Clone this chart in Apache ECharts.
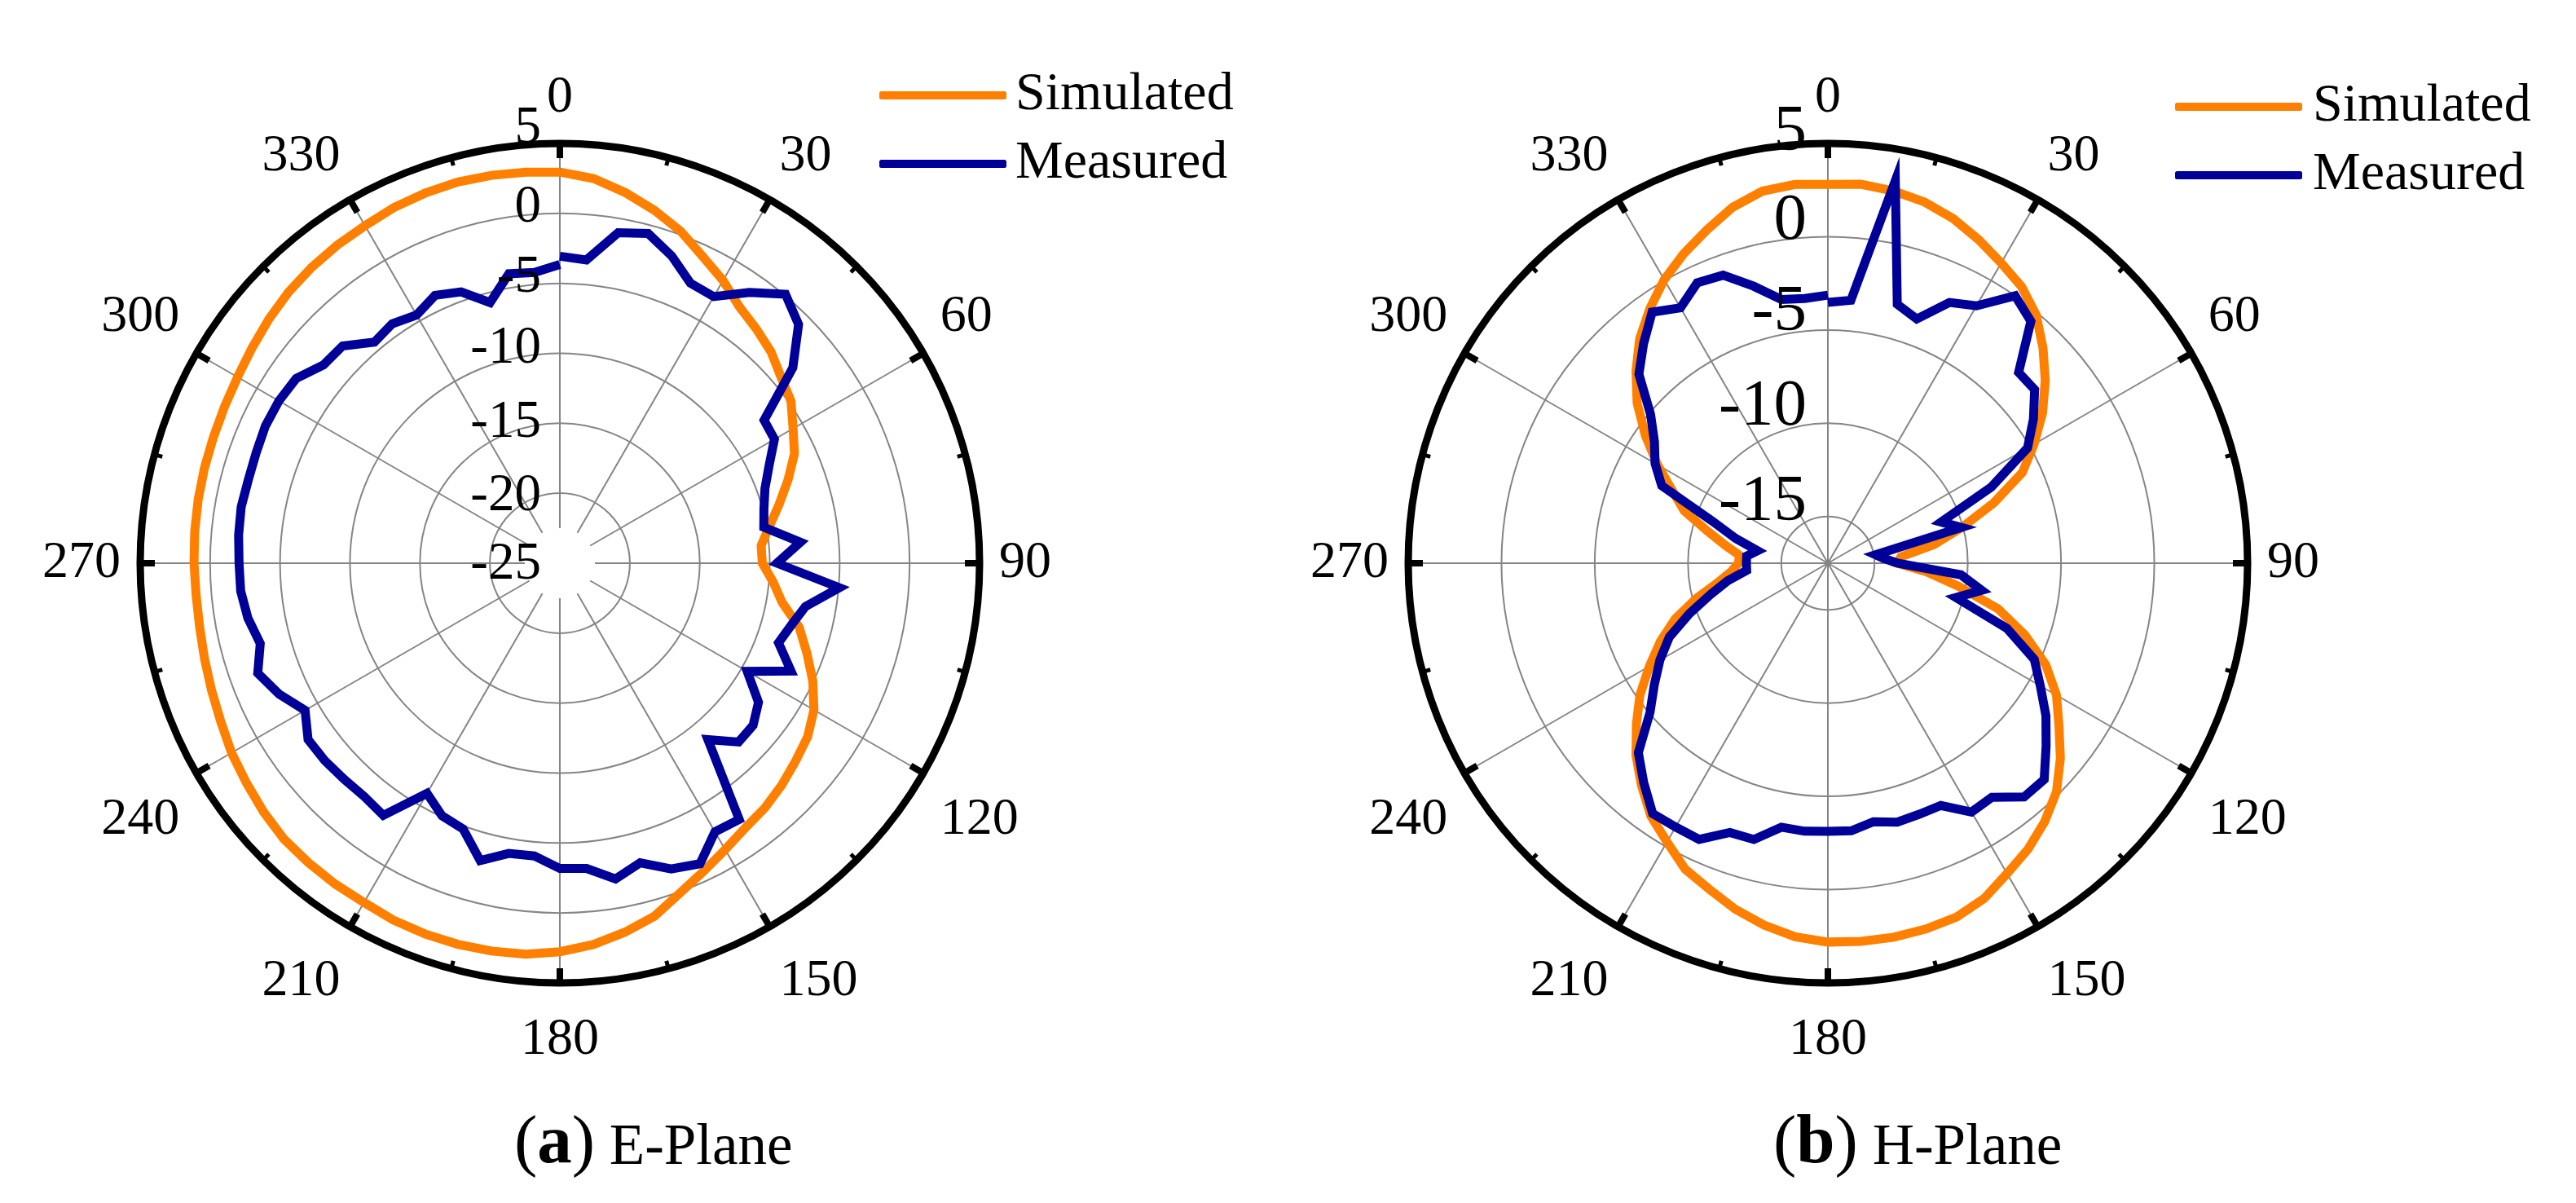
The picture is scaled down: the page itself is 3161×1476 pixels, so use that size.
<!DOCTYPE html>
<html><head><meta charset="utf-8">
<style>html,body{margin:0;padding:0;background:#fff}#c{width:3161px;height:1476px}</style>
<script src="https://cdn.jsdelivr.net/npm/echarts@6/dist/echarts.min.js"></script>
</head><body><div id="c"></div>
<script>
const seriesNames = ['Simulated', 'Measured'];
const captionA = 'E-Plane';
const captionB = 'H-Plane';
const angleDeg = [0,5,10,15,20,25,30,35,40,45,50,55,60,65,70,75,80,85,90,95,100,105,110,115,120,125,130,135,140,145,150,155,160,165,170,175,180,185,190,195,200,205,210,215,220,225,230,235,240,245,250,255,260,265,270,275,280,285,290,295,300,305,310,315,320,325,330,335,340,345,350,355,360];
const eSimulated = [2.95,2.6,1.9,1.11,0.25,-0.82,-1.67,-2.63,-3.15,-3.65,-4.35,-4.83,-5.75,-6.5,-7.65,-8.78,-9.79,-10.56,-10.53,-9.7,-8.87,-7.29,-6.21,-5.05,-4.03,-3.38,-3.0,-2.57,-2.19,-1.9,-1.37,-0.7,0.09,1.12,1.78,2.36,2.77,3.05,3.15,3.2,3.2,3.15,3.0,3.0,2.95,2.89,2.65,2.36,2.1,1.75,1.5,1.3,1.15,1.1,1.15,1.2,1.25,1.3,1.35,1.45,1.6,1.85,2.15,2.42,2.6,2.75,2.85,3.05,3.15,3.2,3.15,3.05,2.95];
const eMeasured = [-3.06,-3.24,-1.02,-0.61,-1.63,-2.92,-3.0,-1.37,0.09,-0.87,-3.26,-7.18,-7.29,-8.5,-9.4,-9.9,-10.2,-7.74,-9.48,-4.95,-7.18,-7.88,-8.37,-6.77,-9.54,-7.67,-6.97,-6.93,-8.54,-2.65,-2.83,-1.3,-1.74,-2.83,-2.09,-3.1,-3.18,-4.0,-3.94,-3.0,-4.78,-5.08,-6.01,-3.0,-3.24,-3.18,-3.06,-3.03,-3.97,-2.86,-2.02,-2.83,-2.36,-2.1,-2.07,-1.95,-1.87,-1.95,-1.9,-1.78,-1.81,-1.99,-2.95,-3.04,-4.38,-4.11,-4.52,-3.88,-4.36,-5.72,-4.0,-4.14,-3.65];
const hSimulated = [2.81,2.89,2.76,2.54,2.15,1.63,1.08,0.6,-0.13,-1.19,-2.29,-3.45,-4.74,-6.0,-8.03,-10.04,-11.71,-13.57,-13.79,-12.2,-10.4,-8.06,-6.26,-4.61,-3.35,-2.38,-1.23,-0.17,0.58,1.21,1.71,2.33,2.68,2.8,2.86,2.85,2.81,2.6,2.2,1.7,1.1,0.6,-0.25,-0.95,-1.95,-2.95,-4.1,-5.2,-6.45,-7.6,-8.8,-10.2,-11.5,-12.3,-12.7,-12.75,-11.9,-10.8,-9.3,-8.3,-6.95,-5.55,-4.15,-2.95,-1.8,-0.85,0.05,0.8,1.5,2.25,2.75,2.88,2.8];
const hMeasured = [-3.52,-3.35,3.32,-3.13,-3.57,-2.08,-1.57,0.0,-0.57,-3.04,-3.03,-4.05,-5.14,-7.83,-11.04,-10.1,-14.9,-14.5,-13.77,-10.34,-9.13,-10.39,-7.28,-5.29,-4.35,-3.23,-2.23,-1.1,-1.14,-2.18,-2.1,-3.17,-3.18,-3.13,-3.43,-3.1,-3.13,-3.08,-3.13,-2.17,-2.14,-1.16,-1.17,-1.12,-2.14,-3.13,-5.05,-6.14,-7.1,-8.12,-9.6,-10.97,-12.04,-13.13,-13.13,-13.13,-13.67,-12.38,-10.91,-7.67,-6.8,-6.15,-5.09,-3.17,-2.13,-1.07,-1.69,-0.92,-1.07,-2.13,-3.15,-3.26,-3.13];
const eRings = [-20,-15,-10,-5,0,5];
const hRings = [-15,-10,-5,0,5];
const eTickLabels = [-25,-20,-15,-10,-5,0,5];
const hTickLabels = [-15,-10,-5,0,5];

const FONT = 'Liberation Serif';
const ORANGE = '#ff8000', BLUE = '#000099', GRID = '#858585';
const eLift = {'5':18,'0':7,'-5':7,'-10':6,'-15':0,'-20':-4,'-25':-2};
const hLift = {'5':13,'0':19,'-5':21,'-10':20,'-15':17};

function tokenOf(n){ return (n<0?'d':'u')+Math.abs(n); }
function richFor(lift, size){
  const r = {};
  Object.values(lift).forEach(n => { r[tokenOf(n)] = {fontFamily:FONT,fontSize:size,color:'#000',
    padding:n<0?[-2*n,0,0,0]:[0,0,2*n,0]}; });
  return r;
}
function pairs(vals){ return vals.map((v,i)=>[v,angleDeg[i]]); }
function gridAngle(i){ return {polarIndex:i,startAngle:90,min:0,max:360,interval:30,
  axisLine:{show:false},axisTick:{show:false},axisLabel:{show:false},
  splitLine:{show:true,lineStyle:{color:GRID,width:2}}}; }
function frameAngle(i){ return {polarIndex:i,startAngle:90,min:0,max:360,interval:30,
  axisLine:{show:true,lineStyle:{color:'#000',width:9}},
  axisTick:{show:true,inside:true,length:18,lineStyle:{color:'#000',width:8}},
  minorTick:{show:true,splitNumber:2,length:10,lineStyle:{color:'#000',width:5}},
  axisLabel:{show:true,margin:24,
    formatter:v=>(v>90&&v<270?'{lo|'+v+'}':'{hi|'+v+'}'),
    rich:{hi:{fontFamily:FONT,fontSize:64,color:'#000'},
          lo:{fontFamily:FONT,fontSize:64,color:'#000',padding:[14,0,0,0]}}},
  splitLine:{show:false}}; }
function gridRadius(i,min,rings){ return {polarIndex:i,min:min,max:5,
  axisLine:{show:false},axisTick:{show:false,customValues:rings},axisLabel:{show:false},
  splitLine:{show:true,lineStyle:{color:GRID,width:2}}}; }
function labelRadius(i,min,labels,lift,size,margin){ return {polarIndex:i,min:min,max:5,z:10,
  axisLine:{show:false},axisTick:{show:false,customValues:labels},
  axisLabel:{show:true,customValues:labels,margin:margin,hideOverlap:false,showMinLabel:true,showMaxLabel:true,
    formatter:v=>'{'+tokenOf(lift[String(v)])+'|'+v+'}',rich:richFor(lift,size)},
  splitLine:{show:false}}; }
function line(name,vals,color,idx){ return {type:'line',name:name,coordinateSystem:'polar',polarIndex:idx,
  data:pairs(vals),showSymbol:false,symbol:'none',smooth:false,animation:false,clip:false,z:3,
  lineStyle:{color:color,width:11,join:'miter'},itemStyle:{color:color}}; }
function legend(left,top,pad){ return {orient:'vertical',left:left,top:top,data:seriesNames,selectedMode:false,
  itemWidth:156,itemHeight:10,itemGap:18,padding:0,icon:'roundRect',
  textStyle:{fontFamily:FONT,fontSize:66,color:'#000',padding:[0,0,0,pad]}}; }
function caption(letter,text,left){ return {left:left,top:1362,padding:0,
  text:'{p|(}{b|'+letter+'}{p|)} {t|'+text+'}',
  textStyle:{fontWeight:'normal',fontFamily:FONT,fontSize:71,rich:{
    p:{fontFamily:FONT,fontSize:85,fontWeight:'normal',color:'#000'},
    b:{fontFamily:FONT,fontSize:85,fontWeight:'bold',color:'#000'},
    t:{fontFamily:FONT,fontSize:71,fontWeight:'normal',color:'#000',padding:[9,0,0,0]}}}}; }

const option = {
  backgroundColor:'#fff',animation:false,
  title:[caption('a',captionA,631),caption('b',captionB,2176)],
  legend:[legend(1079,84,6),legend(2669,98,8)],
  polar:[
    {center:[687,691],radius:[43,515]},
    {center:[687,691],radius:[0,515]},
    {center:[2243,691],radius:[0,515]},
    {center:[2243,691],radius:[0,515]}
  ],
  angleAxis:[gridAngle(0),frameAngle(1),gridAngle(2),frameAngle(3)],
  radiusAxis:[
    gridRadius(0,-22.5,eRings),
    labelRadius(1,-25,eTickLabels,eLift,65,23),
    gridRadius(2,-17.5,hRings),
    labelRadius(3,-17.5,hTickLabels,hLift,81,26)
  ],
  series:[
    line(seriesNames[0],eSimulated,ORANGE,0),
    line(seriesNames[1],eMeasured,BLUE,0),
    line(seriesNames[0],hSimulated,ORANGE,2),
    line(seriesNames[1],hMeasured,BLUE,2)
  ]
};
const chart = echarts.init(document.getElementById('c'),null,{renderer:'canvas',width:3161,height:1476});
chart.setOption(option);
</script></body></html>
